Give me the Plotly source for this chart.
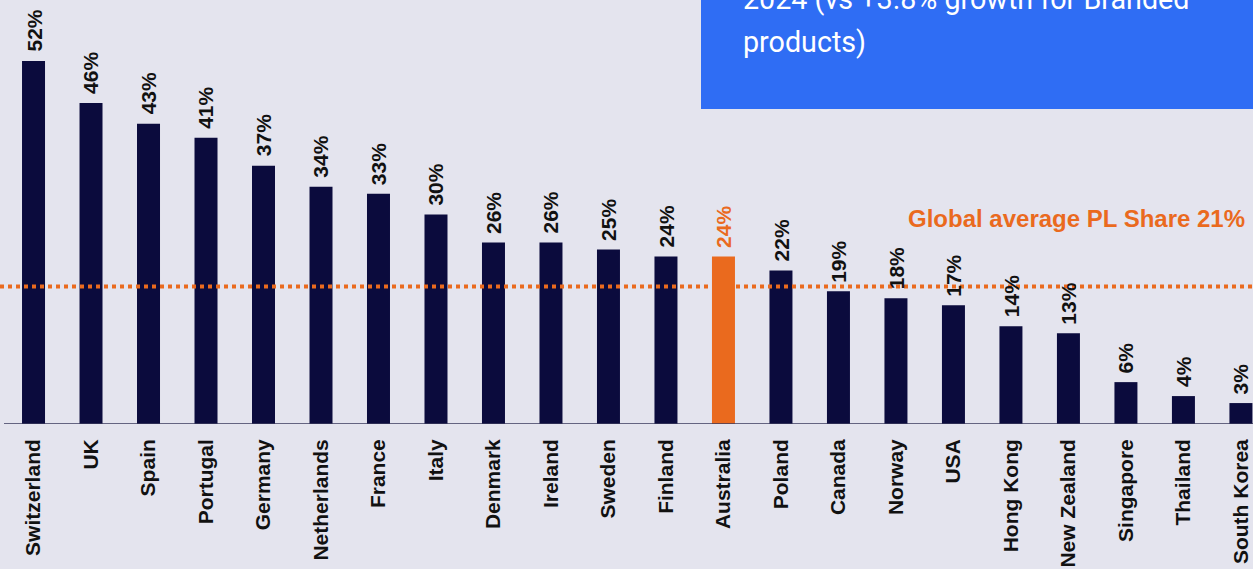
import plotly.graph_objects as go

countries = ["Switzerland", "UK", "Spain", "Portugal", "Germany", "Netherlands", "France",
             "Italy", "Denmark", "Ireland", "Sweden", "Finland", "Australia", "Poland",
             "Canada", "Norway", "USA", "Hong Kong", "New Zealand", "Singapore",
             "Thailand", "South Korea"]
pl_share = [52, 46, 43, 41, 37, 34, 33, 30, 26, 26, 25, 24, 24, 22, 19, 18, 17, 14, 13, 6, 4, 3]
highlight = "Australia"
global_avg_label = "Global average PL Share 21%"
global_avg_line = 19.7  # level at which the dotted line is drawn in the source
note_lines = ["2024 (vs +3.8% growth for Branded", "products)"]

NAVY = "#0b0b3d"
ORANGE = "#ea6a1e"
BG = "#e4e4ee"
BLUE = "#2f6df4"

bar_colors = [ORANGE if c == highlight else NAVY for c in countries]

fig = go.Figure()
fig.add_trace(go.Bar(x=countries, y=pl_share, marker=dict(color=bar_colors, line=dict(width=0)),
                     width=0.4, hoverinfo="skip"))

annotations = []
for c, v in zip(countries, pl_share):
    annotations.append(dict(x=c, y=v, xref="x", yref="y", text=f"{v}%", showarrow=False,
                            textangle=-90, yanchor="bottom", xanchor="center", yshift=7,
                            font=dict(family="Liberation Sans", size=21, weight="bold",
                                      color=ORANGE if c == highlight else "#111111")))

annotations.append(dict(x=1.0, xref="paper", y=29.5, yref="y", text=global_avg_label,
                        showarrow=False, xanchor="right", yanchor="middle", xshift=-6,
                        font=dict(family="Liberation Sans", size=24, weight="bold", color=ORANGE)))

annotations.append(dict(x=741 / 1253, xref="paper", y=1.003, yref="paper", text=note_lines[0],
                        showarrow=False, xanchor="left", yanchor="middle",
                        font=dict(family="Roboto", size=28.7, color="white")))
annotations.append(dict(x=741 / 1253, xref="paper", y=0.901, yref="paper", text=note_lines[1],
                        showarrow=False, xanchor="left", yanchor="middle",
                        font=dict(family="Roboto", size=28.7, color="white")))

shapes = [
    dict(type="line", xref="paper", yref="y", x0=0, x1=1, y0=global_avg_line, y1=global_avg_line,
         line=dict(color=ORANGE, width=4, dash="dot"), layer="above"),
    dict(type="line", xref="paper", yref="y", x0=4 / 1253, x1=1, y0=0, y1=0,
         line=dict(color="#3a3a5c", width=1.5)),
    dict(type="rect", xref="paper", yref="paper", x0=701 / 1253, x1=1.01, y0=(424 - 109) / 424, y1=1.1,
         fillcolor=BLUE, line=dict(width=0), layer="above"),
]

fig.update_layout(
    width=1253, height=569,
    margin=dict(l=0, r=0, t=0, b=145),
    paper_bgcolor=BG, plot_bgcolor=BG,
    showlegend=False,
    annotations=annotations,
    shapes=shapes,
    xaxis=dict(range=[-0.583, 21.21], tickangle=-90, showgrid=False, zeroline=False,
               showline=False, ticks="", ticklabelstandoff=10, automargin=False,
               tickfont=dict(family="Liberation Sans", size=21, weight="bold", color="#111111")),
    yaxis=dict(range=[0, 60.74], visible=False, showgrid=False, zeroline=False, automargin=False),
)

fig.write_html("out.html")
